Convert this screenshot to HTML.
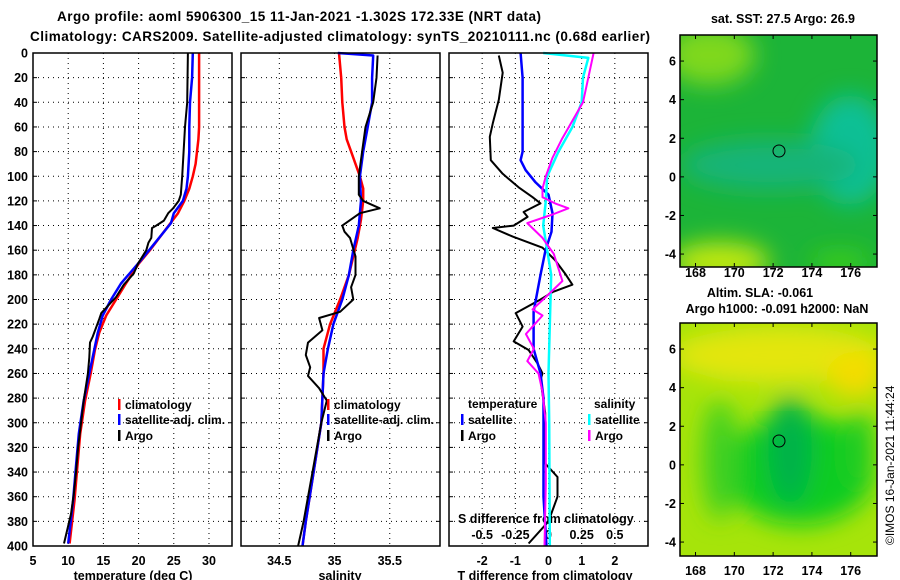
<!DOCTYPE html>
<html><head><meta charset="utf-8"><style>
body{margin:0;background:#fff;}
svg{display:block;font-family:"Liberation Sans",sans-serif;font-weight:bold;}
</style></head><body>
<svg id="c" width="900" height="580" viewBox="0 0 900 580" xmlns="http://www.w3.org/2000/svg">
<defs>
<filter id="bl" x="-50%" y="-50%" width="200%" height="200%"><feGaussianBlur stdDeviation="12"/></filter>
<clipPath id="m1c"><rect x="680" y="35" width="197" height="232"/></clipPath>
<clipPath id="m2c"><rect x="680" y="323" width="197" height="233"/></clipPath>
</defs>
<text x="57" y="21" font-size="13.5" textLength="484">Argo profile: aoml 5906300_15 11-Jan-2021 -1.302S 172.33E (NRT data)</text>
<text x="30" y="41" font-size="13.5" textLength="620">Climatology: CARS2009. Satellite-adjusted climatology: synTS_20210111.nc (0.68d earlier)</text>

<g clip-path="url(#m1c)">
<rect x="680" y="35" width="197" height="232" fill="#1cb438"/>
<g filter="url(#bl)">
<ellipse cx="710" cy="55" rx="45" ry="30" fill="#7fd81c"/>
<ellipse cx="850" cy="150" rx="40" ry="55" fill="#08c095"/>
<ellipse cx="770" cy="165" rx="90" ry="25" fill="#14b478"/>
<ellipse cx="720" cy="262" rx="50" ry="20" fill="#c0e80a"/>
<ellipse cx="840" cy="262" rx="30" ry="10" fill="#40d018"/>
</g>
<circle cx="779" cy="151" r="6" fill="none" stroke="#000" stroke-width="1"/>
</g>
<rect x="680" y="35" width="197" height="232" fill="none" stroke="#000" stroke-width="1.5"/>

<g clip-path="url(#m2c)">
<rect x="680" y="323" width="197" height="233" fill="#a6e40a"/>
<g filter="url(#bl)">
<ellipse cx="780" cy="355" rx="110" ry="28" fill="#e4e608"/>
<ellipse cx="855" cy="375" rx="28" ry="22" fill="#f4dc00"/>
<ellipse cx="800" cy="470" rx="75" ry="55" fill="#10cc22"/>
<ellipse cx="790" cy="450" rx="22" ry="55" fill="#06b24a"/>
<ellipse cx="720" cy="460" rx="18" ry="60" fill="#40d020"/>
<ellipse cx="860" cy="450" rx="15" ry="40" fill="#20cc20"/>
</g>
<circle cx="779" cy="441" r="6" fill="none" stroke="#000" stroke-width="1"/>
</g>
<rect x="680" y="323" width="197" height="233" fill="none" stroke="#000" stroke-width="1.5"/>

<text x="783" y="23" font-size="12.5" text-anchor="middle">sat. SST: 27.5 Argo: 26.9</text>
<text x="760" y="297" font-size="12.5" text-anchor="middle">Altim. SLA: -0.061</text>
<text x="777" y="313" font-size="12.5" text-anchor="middle">Argo h1000: -0.091 h2000: NaN</text>
<text transform="translate(894,545) rotate(-90)" font-size="12" font-weight="normal">©IMOS 16-Jan-2021 11:44:24</text>
<g id="g"></g>
</svg>
<script>
// depth grid
const depthTicks = [0,20,40,60,80,100,120,140,160,180,200,220,240,260,280,300,320,340,360,380,400];
// temperature panel
const tTicks = [5,10,15,20,25,30];
const tClimD = [0,60,70,80,90,100,110,120,130,160,171,187,200,213,227,241,260,282,309,336,363,398];
const tClimV = [28.6,28.6,28.5,28.3,28.1,27.7,27.2,26.5,25.6,21.6,20.0,18.2,16.8,15.4,14.4,13.8,13.2,12.4,11.7,11.3,10.9,10.2];
const tSatD = [0,20,40,60,80,100,110,120,130,138,160,171,187,200,213,227,241,260,282,309,336,363,398];
const tSatV = [27.7,27.6,27.3,27.2,27.2,27.0,26.8,26.3,25.0,24.6,21.5,19.9,17.5,16.1,14.9,14.2,13.7,13.0,12.2,11.5,11.1,10.7,10.0];
const tArgoD = [0,40,60,80,100,115,120,126,130,136,140,142,150,154,160,171,179,188,198,211,216,230,235,247,260,282,320,341,358,374,398];
const tArgoV = [27.0,26.9,26.6,26.4,26.2,26.0,25.7,24.9,24.2,23.6,22.5,21.9,21.8,21.4,21.1,19.9,19.3,17.9,16.8,14.7,14.4,13.5,13.1,13.0,12.8,12.2,11.4,11.1,10.8,10.4,9.4];
// salinity panel
const sTicks = [34.5,35,35.5];
const sClimD = [0,20,40,60,70,80,90,100,110,120,135,150,165,180,200,220,240,260,300,340,380,400];
const sClimV = [35.04,35.06,35.07,35.09,35.11,35.15,35.19,35.23,35.26,35.26,35.24,35.21,35.17,35.13,35.05,34.96,34.90,34.90,34.88,34.81,34.74,34.71];
const sSatD = [0,2,20,40,60,80,100,120,140,160,180,200,220,240,260,300,340,380,400];
const sSatV = [35.03,35.35,35.34,35.34,35.30,35.26,35.23,35.24,35.22,35.17,35.13,35.07,34.99,34.94,34.90,34.88,34.81,34.74,34.71];
const sArgoD = [2,20,40,60,80,100,115,120,126,130,140,145,150,165,180,190,200,210,215,225,235,245,255,262,272,282,300,340,380,400];
const sArgoV = [35.39,35.38,35.35,35.28,35.25,35.22,35.22,35.26,35.41,35.23,35.07,35.09,35.14,35.19,35.19,35.15,35.17,35.05,34.86,34.89,34.76,34.74,34.78,34.76,34.86,34.93,34.88,34.80,34.72,34.67];
// difference panel
const dTicks = [-2,-1,0,1,2];
const dSTicks = [-0.5,-0.25,0,0.25,0.5];
const dSTickLabels = ["-0.5","-0.25","0","0.25","0.5"];
const dTArgoD = [2,16,38,57,68,87,98,109,117,122,129,133,140,142,149,158,168,179,188,194,200,211,222,234,241,252,260,265,292,333,344,360,380,398];
const dTArgoV = [-1.5,-1.38,-1.5,-1.68,-1.77,-1.74,-1.38,-0.9,-0.48,-0.24,-0.75,-0.63,-1.05,-1.68,-1.08,-0.18,0.2,0.5,0.72,0.12,-0.24,-0.99,-0.78,-1.05,-0.6,-0.33,-0.18,-0.24,-0.1,-0.1,0.27,0.27,0.0,-0.6];
const dTSatD = [0,20,80,87,95,105,115,130,145,160,180,210,240,260,280,320,360,400];
const dTSatV = [-0.84,-0.78,-0.78,-0.84,-0.69,-0.39,0.0,0.12,0.09,-0.09,-0.24,-0.45,-0.45,-0.24,-0.15,-0.15,-0.15,-0.06];
const dSSatD = [0,4,20,40,60,80,100,120,140,160,180,200,260,300,400];
const dSSatV = [-0.04,0.30,0.26,0.25,0.18,0.075,-0.01,-0.02,-0.04,-0.01,0.02,0.015,0.0,0.005,0.01];
const dSArgoD = [0,20,40,55,70,85,100,110,117,122,126,131,138,150,163,175,185,198,208,213,222,228,240,250,260,275,300,350,400];
const dSArgoV = [0.34,0.30,0.26,0.18,0.10,0.03,-0.02,-0.045,-0.045,0.05,0.15,0.03,-0.16,-0.045,0.04,0.075,0.105,-0.02,-0.12,-0.045,-0.12,-0.17,-0.11,-0.16,-0.075,-0.045,-0.02,-0.02,-0.03];
// maps
const latTicks = [6,4,2,0,-2,-4];
const lonTicks = [168,170,172,174,176];

const NS='http://www.w3.org/2000/svg';
const G=document.getElementById('g');
function mk(tag,attrs,parent){const e=document.createElementNS(NS,tag);for(const k in attrs)e.setAttribute(k,attrs[k]);(parent||G).appendChild(e);return e;}
const top0=53, bot=546;
const yD=d=>top0+(bot-top0)*d/400;
const panels=[
 {x0:33,x1:232,lo:5,hi:33.27,name:'temperature'},
 {x0:241,x1:440,lo:34.153,hi:35.955,name:'salinity'},
 {x0:449,x1:648,lo:-3,hi:3,name:'difference'}];
function sx(p,v){return p.x0+(v-p.lo)/(p.hi-p.lo)*(p.x1-p.x0);}
function sxS(v){return sx(panels[2],v*4);}
function line(p,D,V,col,w,name,fn){
 const f=fn||(v=>sx(p,v));
 const pts=D.map((d,i)=>f(V[i]).toFixed(1)+','+yD(d).toFixed(1)).join(' ');
 const e=mk('polyline',{points:pts,fill:'none',stroke:col,'stroke-width':w,'stroke-linejoin':'round'});
 
 
}
function txt(x,y,s,attrs){const e=mk('text',Object.assign({x:x,y:y,'font-size':12.5},attrs||{}));e.textContent=s;return e;}
panels.forEach((p,pi)=>{
 const ticks=[tTicks,sTicks,dTicks][pi];
 ticks.forEach(t=>{const x=sx(p,t);if(x>p.x0+2&&x<p.x1-2){const l=mk('line',{x1:x,x2:x,y1:top0,y2:bot,stroke:'#000','stroke-dasharray':'1,4','stroke-width':1});}});
 depthTicks.forEach(d=>{if(d>0&&d<400){const l=mk('line',{x1:p.x0,x2:p.x1,y1:yD(d),y2:yD(d),stroke:'#000','stroke-dasharray':'1,4','stroke-width':1});
  mk('line',{x1:p.x0,x2:p.x0+4,y1:yD(d),y2:yD(d),stroke:'#000'});mk('line',{x1:p.x1-4,x2:p.x1,y1:yD(d),y2:yD(d),stroke:'#000'});}});
});
depthTicks.forEach(d=>{const t=txt(28,yD(d)+4.5,String(d),{'text-anchor':'end'});});
tTicks.forEach(v=>{const t=txt(sx(panels[0],v),565,String(v),{'text-anchor':'middle'});});
sTicks.forEach(v=>{const t=txt(sx(panels[1],v),565,String(v),{'text-anchor':'middle'});});
dTicks.forEach(v=>{const t=txt(sx(panels[2],v),565,String(v),{'text-anchor':'middle'});});
dSTicks.forEach((v,i)=>{const t=txt(sxS(v),539,dSTickLabels[i],{'text-anchor':'middle'});});
let t;
t=txt(133,580,'temperature (deg C)',{'text-anchor':'middle'});
t=txt(340,580,'salinity',{'text-anchor':'middle'});
t=txt(545,580,'T difference from climatology',{'text-anchor':'middle'});
t=txt(458,523,'S difference from climatology');
const P=panels;
line(P[0],tClimD,tClimV,'#f00',2.5,'temperature-climatology-line');
line(P[0],tSatD,tSatV,'#00f',2.5,'temperature-satellite-line');
line(P[0],tArgoD,tArgoV,'#000',2,'temperature-argo-line');
line(P[1],sClimD,sClimV,'#f00',2.5,'salinity-climatology-line');
line(P[1],sSatD,sSatV,'#00f',2.5,'salinity-satellite-line');
line(P[1],sArgoD,sArgoV,'#000',2,'salinity-argo-line');
line(P[2],dTArgoD,dTArgoV,'#000',2,'t-diff-argo-line');
line(P[2],dTSatD,dTSatV,'#00f',2.5,'t-diff-satellite-line');
line(P[2],dSSatD,dSSatV,'#0ff',2.5,'s-diff-satellite-line',sxS);
line(P[2],dSArgoD,dSArgoV,'#f0f',2,'s-diff-argo-line',sxS);
panels.forEach(p=>{const r=mk('rect',{x:p.x0,y:top0,width:p.x1-p.x0,height:bot-top0,fill:'none',stroke:'#000','stroke-width':1.5});});
function leg(x,y,col,label,name){mk('rect',{x:x,y:y-10,width:2.5,height:11,fill:col});const e=txt(x+7,y,label,{'font-size':12});}
leg(118,409,'#f00','climatology','legend-climatology');
leg(118,424,'#00f','satellite-adj. clim.','legend-satellite-adj');
leg(118,440,'#000','Argo','legend-argo');
leg(327,409,'#f00','climatology','legend-climatology-s');
leg(327,424,'#00f','satellite-adj. clim.','legend-satellite-adj-s');
leg(327,440,'#000','Argo','legend-argo-s');
t=txt(468,408,'temperature',{'font-size':12});
t=txt(594,408,'salinity',{'font-size':12});
leg(461,424,'#00f','satellite','legend-t-satellite');
leg(461,440,'#000','Argo','legend-t-argo');
leg(588,424,'#0ff','satellite','legend-s-satellite');
leg(588,440,'#f0f','Argo','legend-s-argo');
const maps=[{x0:680,x1:877,y0:35,y1:267,lab:277},{x0:680,x1:877,y0:323,y1:556,lab:575}];
maps.forEach((m,mi)=>{
 const lx=v=>m.x0+(v-167.2)*19.4, ly=v=>m.y0+(7.35-v)*19.3;
 latTicks.forEach(v=>{const y=ly(v);mk('line',{x1:m.x0,x2:m.x0+4,y1:y,y2:y,stroke:'#000'});mk('line',{x1:m.x1-4,x2:m.x1,y1:y,y2:y,stroke:'#000'});
  const e=txt(676,y+4.5,String(v),{'text-anchor':'end'});});
 lonTicks.forEach(v=>{const x=lx(v);mk('line',{x1:x,x2:x,y1:m.y0,y2:m.y0+4,stroke:'#000'});mk('line',{x1:x,x2:x,y1:m.y1-4,y2:m.y1,stroke:'#000'});
  const e=txt(x,m.lab,String(v),{'text-anchor':'middle'});});
});
</script>
</body></html>
